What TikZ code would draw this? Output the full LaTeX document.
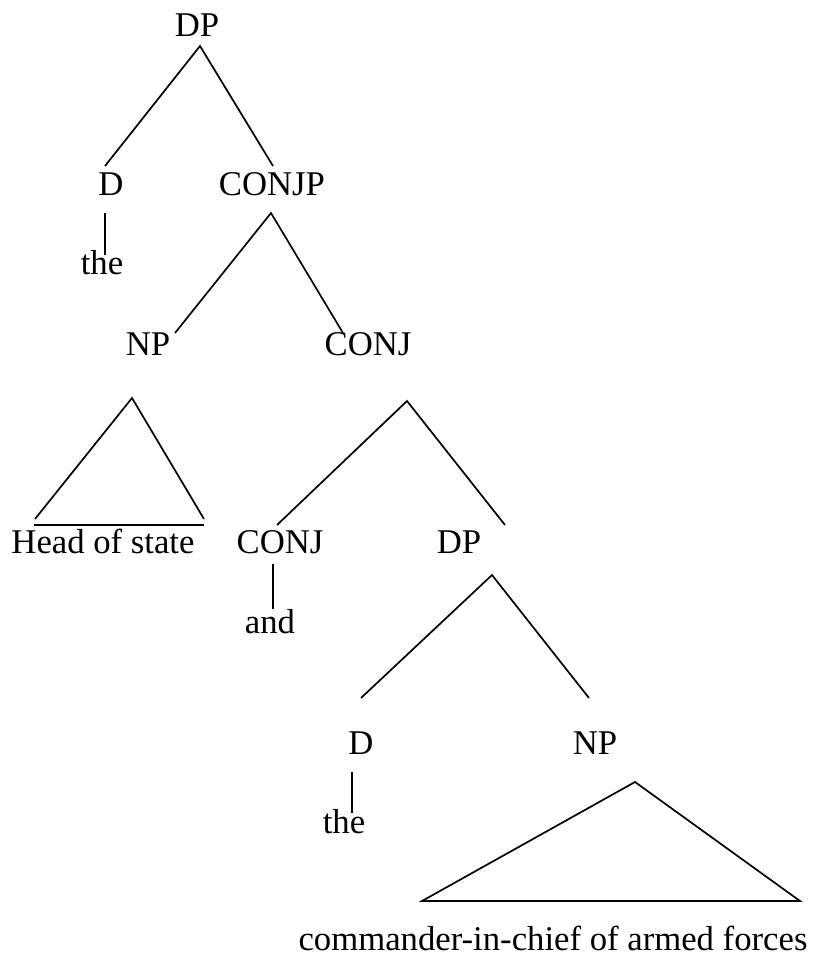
\documentclass[tikz,border=0pt]{standalone}
\usepackage{fontspec}
\setmainfont{Liberation Serif}
\begin{document}
\begin{tikzpicture}[x=1pt,y=-1pt,line width=1.7pt,
  lbl/.style={anchor=base,inner sep=0pt,font=\fontsize{34.7}{40}\selectfont}]
  \useasboundingbox (0,0) rectangle (813,962);
  \node[lbl] (dp) at (197,36) {DP};
  \node[lbl] (d) at (111,195) {D};
  \node[lbl] (conjp) at (272,195) {CONJP};
  \node[lbl] (the) at (102,274) {the};
  \node[lbl] (np) at (148,355) {NP};
  \node[lbl] (conj) at (368,355) {CONJ};
  \node[lbl] (head) at (103,553) {Head of state};
  \node[lbl] (conjb) at (280,553) {CONJ};
  \node[lbl] (dpb) at (459,553) {DP};
  \node[lbl] (and) at (270,633) {and};
  \node[lbl] (db) at (361,754) {D};
  \node[lbl] (npb) at (595,754) {NP};
  \node[lbl] (theb) at (344,833) {the};
  \node[lbl] (cinc) at (553,950) {commander-in-chief of armed forces};
  \coordinate (DP) at (200,46);
  \coordinate (D) at (105,166);
  \coordinate (CP) at (273,166);
  \coordinate (Dt) at (105,213);
  \coordinate (T) at (105,255);
  \coordinate (CPt) at (271,213);
  \coordinate (NP) at (175,333);
  \coordinate (C) at (343,333);
  \coordinate (NPt) at (132,398);
  \coordinate (HL) at (35,519);
  \coordinate (HR) at (204,519);
  \coordinate (Ct) at (407,401);
  \coordinate (C2) at (277,525);
  \coordinate (DP2) at (505,525);
  \coordinate (C2t) at (273,564);
  \coordinate (A) at (273,609);
  \coordinate (DP2t) at (492,575);
  \coordinate (D2) at (361,698);
  \coordinate (NP2) at (589,698);
  \coordinate (D2t) at (352,772);
  \coordinate (T2) at (352,813);
  \coordinate (NP2t) at (635,782);
  \coordinate (CL) at (422,901);
  \coordinate (CR) at (800,901);
  \draw (D) -- (DP) -- (CP);
  \draw (Dt) -- (T);
  \draw (NP) -- (CPt) -- (C);
  \draw (HL) -- (NPt) -- (HR);
  \draw (34,525) -- (204,525);
  \draw (C2) -- (Ct) -- (DP2);
  \draw (C2t) -- (A);
  \draw (D2) -- (DP2t) -- (NP2);
  \draw (D2t) -- (T2);
  \draw (CL) -- (NP2t) -- (CR) -- cycle;
\end{tikzpicture}
\end{document}
